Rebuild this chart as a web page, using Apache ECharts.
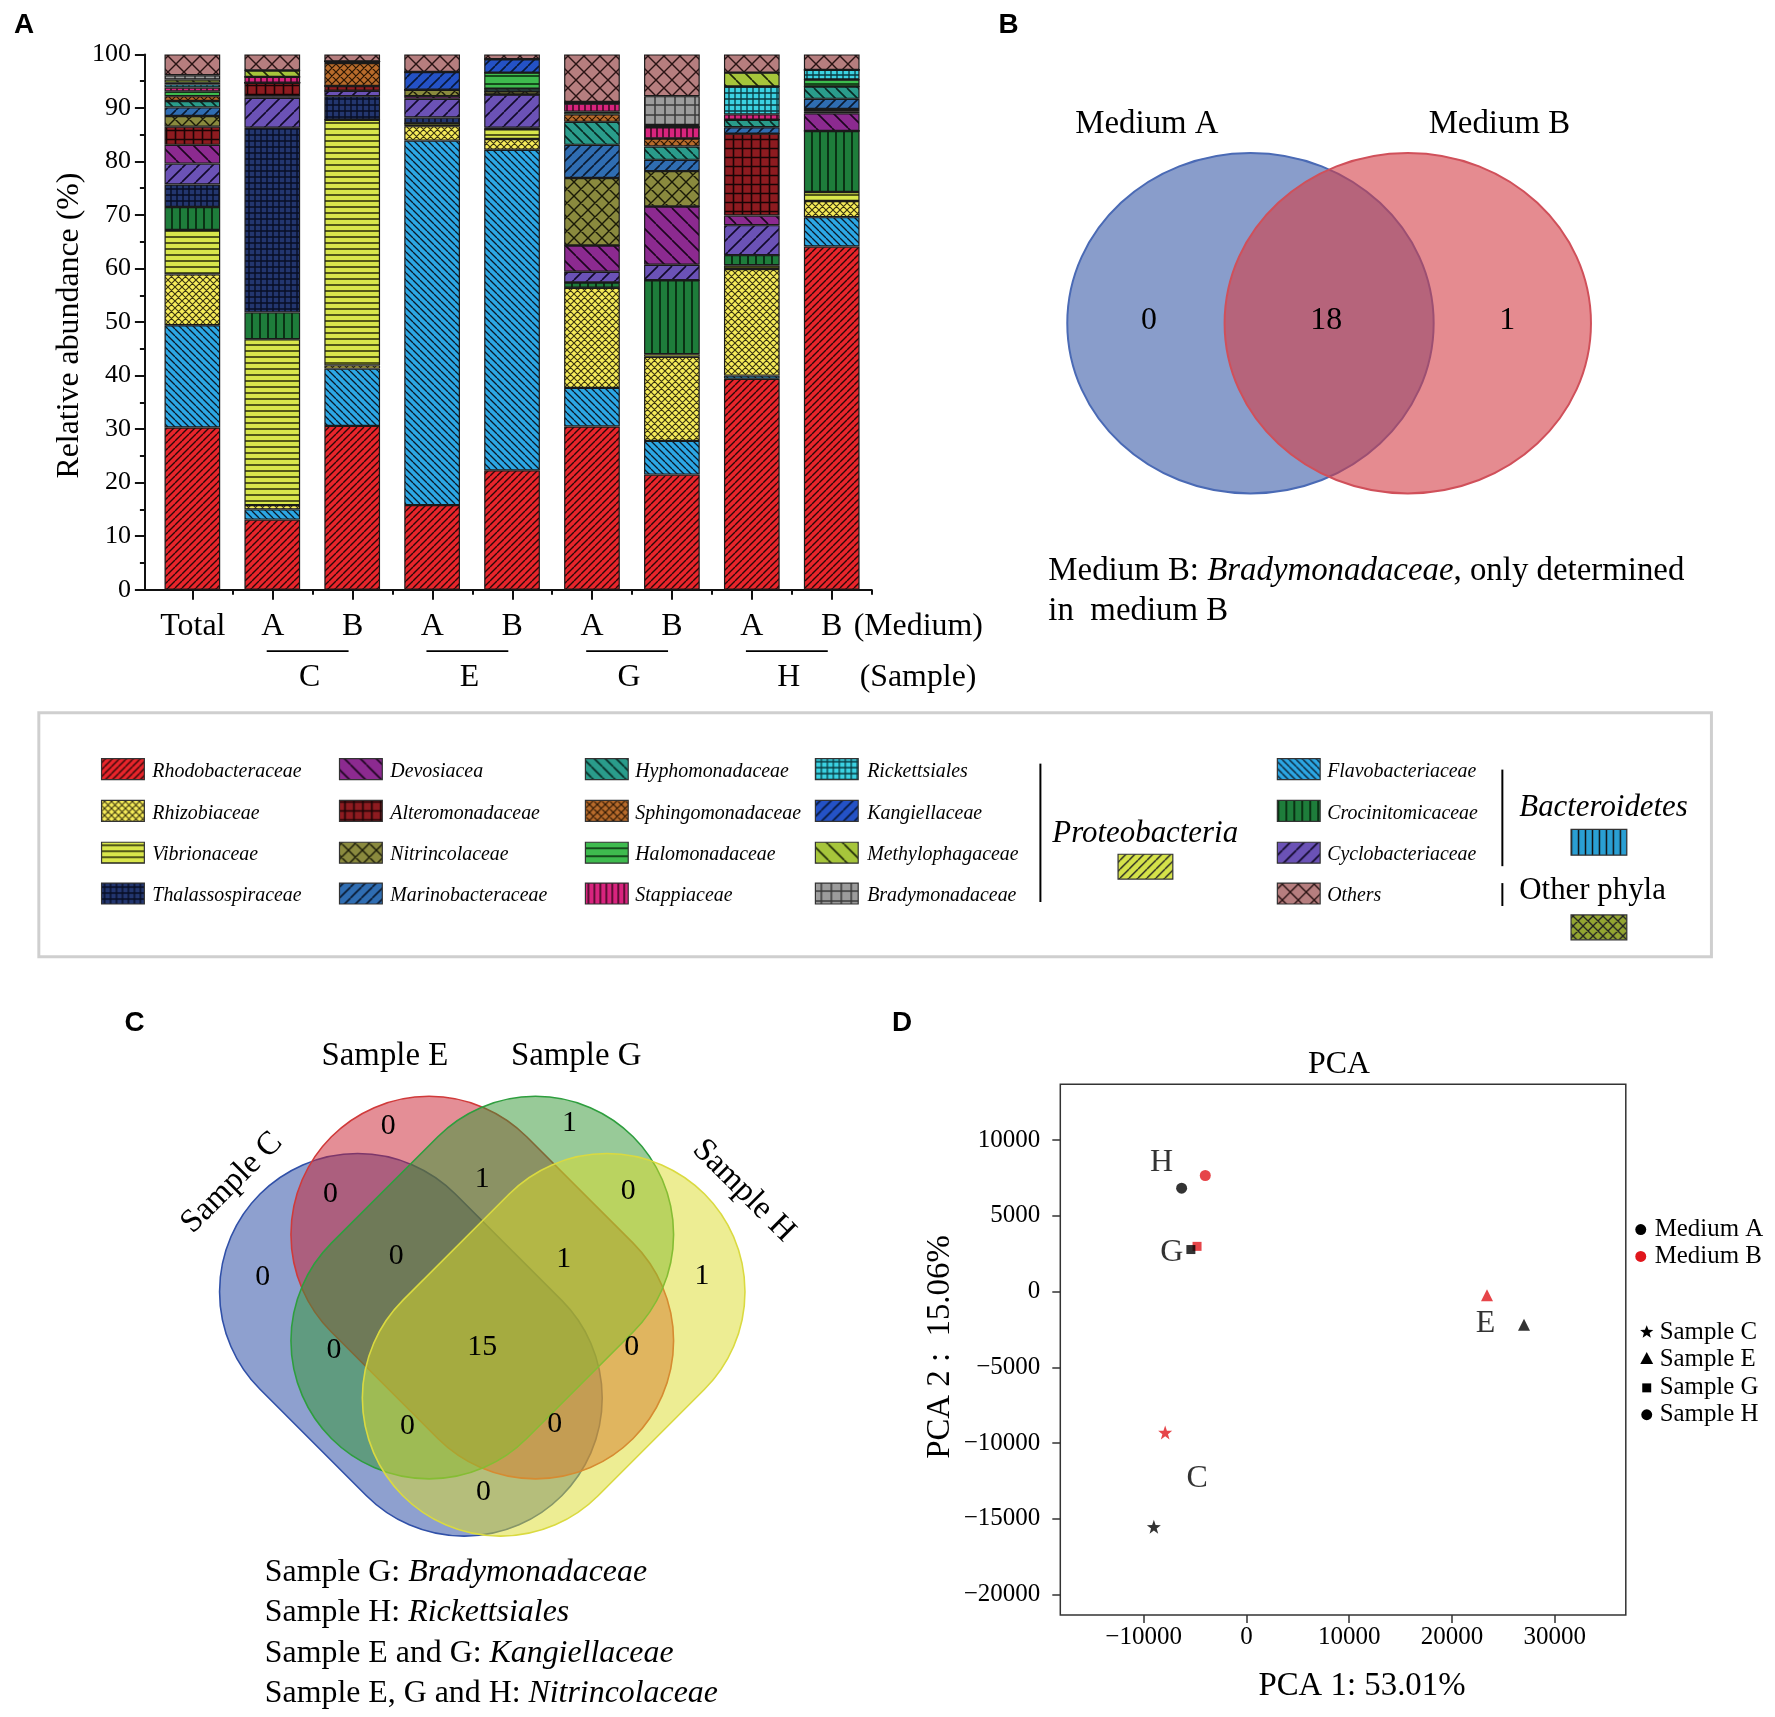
<!DOCTYPE html>
<html><head><meta charset="utf-8">
<script src="https://cdn.jsdelivr.net/npm/echarts/dist/echarts.min.js"></script>
<style>html,body{margin:0;padding:0;background:#fff}#main{width:1775px;height:1717px}</style>
</head><body><div id="main"></div>
<script>
// ================= DATA =================
// Panel A: relative abundance (%) per family, bars in order below
const barLabels = ['Total','A','B','A','B','A','B','A','B'];
const sampleGroups = ['C','E','G','H'];
const rhodobacteraceae  = [30.3,13.1,30.6,15.8,22.3,30.5,21.5,39.4,64.1];
const flavobacteriaceae = [19.1,1.9,10.7,68.1,59.9,7.2,6.3,0.6,5.5];
const rhizobiaceae      = [9.5,0.8,0.6,2.7,2.0,18.7,15.7,19.9,3.0];
const vibrionaceae      = [8.3,31.0,45.9,0.5,1.8,0,0.5,0.7,1.7];
const crocinitomicaceae = [4.3,5.0,0,0,0,1.0,13.8,1.9,11.4];
const thalassospiraceae = [4.2,34.5,4.4,1.1,0.3,0,0,0,0];
const cyclobacteriaceae = [3.9,5.6,1.0,3.5,6.2,2.0,2.9,5.6,0];
const devosiacea        = [3.5,0.3,0,0.5,0,4.9,10.9,1.8,3.3];
const alteromonadaceae  = [3.4,2.5,0.9,0,0,0,0,15.3,0.4];
const nitrincolaceae    = [2.0,0,0,1.2,0.6,12.6,6.6,0,0.4];
const marinobacteraceae = [1.6,0,0,0,0,6.2,2.1,1.2,1.9];
const hyphomonadaceae   = [1.2,0,0,0,0.5,4.3,2.5,1.4,2.3];
const sphingomonadaceae = [0.9,0,4.3,0,0,1.4,1.5,0,0];
const halomonadaceae    = [0.9,0,0.3,0,3.0,0.5,0,0,1.3];
const stappiaceae       = [0.7,1.1,0,0,0,1.5,2.1,1.0,0];
const rickettsiales     = [0.6,0,0,0,0,0,0,5.2,1.8];
const kangiellaceae     = [0.3,0,0,3.3,2.5,0.3,0,0,0];
const methylophagaceae  = [0.6,1.2,0,0,0,0,0.4,2.6,0];
const bradymonadaceae   = [0.8,0,0,0,0,0,5.4,0,0];
const others            = [3.9,3.0,1.3,3.3,0.9,8.9,7.8,3.4,2.9];
const stackOrder = ['Rhodobacteraceae','Flavobacteriaceae','Rhizobiaceae','Vibrionaceae','Crocinitomicaceae','Thalassospiraceae','Cyclobacteriaceae','Devosiacea','Alteromonadaceae','Nitrincolaceae','Marinobacteraceae','Hyphomonadaceae','Sphingomonadaceae','Halomonadaceae','Stappiaceae','Rickettsiales','Kangiellaceae','Methylophagaceae','Bradymonadaceae','Others'];
const stackValues = [rhodobacteraceae,flavobacteriaceae,rhizobiaceae,vibrionaceae,crocinitomicaceae,thalassospiraceae,cyclobacteriaceae,devosiacea,alteromonadaceae,nitrincolaceae,marinobacteraceae,hyphomonadaceae,sphingomonadaceae,halomonadaceae,stappiaceae,rickettsiales,kangiellaceae,methylophagaceae,bradymonadaceae,others];

// Legend columns
const legendColumns = [
  ['Rhodobacteraceae','Rhizobiaceae','Vibrionaceae','Thalassospiraceae'],
  ['Devosiacea','Alteromonadaceae','Nitrincolaceae','Marinobacteraceae'],
  ['Hyphomonadaceae','Sphingomonadaceae','Halomonadaceae','Stappiaceae'],
  ['Rickettsiales','Kangiellaceae','Methylophagaceae','Bradymonadaceae'],
  ['Flavobacteriaceae','Crocinitomicaceae','Cyclobacteriaceae','Others']
];
const phyla = ['Proteobacteria','Bacteroidetes','Other phyla'];

// Panel B: Venn (Medium A only, both, Medium B only)
const vennBSets = ['Medium A','Medium B'];
const vennBCounts = [0, 18, 1];
const vennBNote = ['Medium B: ', 'Bradymonadaceae', ', only determined', 'in  medium B'];

// Panel C: 4-set Venn
const vennCSets = ['Sample C','Sample E','Sample G','Sample H'];
const vennCRegions = ['C','E','G','H','CE','EG','GH','CEG','EGH','CEGH','CG','EH','CGH','CEH','CH'];
const vennCCounts  = [0,0,1,1,0,1,0,0,1,15,0,0,0,0,0];
const vennCNotes = [['Sample G: ','Bradymonadaceae'],['Sample H: ','Rickettsiales'],['Sample E and G: ','Kangiellaceae'],['Sample E, G and H: ','Nitrincolaceae']];

// Panel D: PCA
const pcaSamples = ['C','E','G','H'];
const pcaMediumA_x = [-9000, 27000, -5400, -6300];
const pcaMediumA_y = [-15530, -2180, 2780, 6830];
const pcaMediumB_x = [-7900, 23400, -4800, -4000];
const pcaMediumB_y = [-9300, -240, 2990, 7670];
const pcaLabel_x = [-4790, 23260, -7260, -8260];
const pcaLabel_y = [-12330, -2110, 2570, 8520];
const pcaXTicks = [-10000, 0, 10000, 20000, 30000];
const pcaYTicks = [-20000, -15000, -10000, -5000, 0, 5000, 10000];

// ================= STYLE =================
const SERIF = 'Liberation Serif, Times New Roman, serif';
const SANS = 'Liberation Sans, Arial, sans-serif';
const SC = 0.9956; // layout scale for annotation group
const fillStyles = {
  Rhodobacteraceae: ['#E8252B','/',7,1.4,'#2a0808'],
  Flavobacteriaceae: ['#2CA7E4','\\',7,1.3,'#0a1a2a'],
  Rhizobiaceae: ['#F6EC5A','x',7,1.1,'#3a3410'],
  Vibrionaceae: ['#D9E64B','h',6,1.5,'#262808'],
  Crocinitomicaceae: ['#1E7D3B','v',8,1.6,'#06200c'],
  Thalassospiraceae: ['#23366F','grid',6,1.4,'#080e24'],
  Cyclobacteriaceae: ['#6B52B6','/',14,1.6,'#120a2a'],
  Devosiacea: ['#8C2A90','\\',16,1.6,'#1c061e'],
  Alteromonadaceae: ['#8E1B20','grid',9,1.6,'#180405'],
  Nitrincolaceae: ['#8A8A3E','x',14,1.4,'#1a1a08'],
  Marinobacteraceae: ['#2F6DB2','/',11,1.6,'#0a1a30'],
  Hyphomonadaceae: ['#2A9C8B','\\',11,1.6,'#082a24'],
  Sphingomonadaceae: ['#B86B2B','x',8,1.2,'#2a1605'],
  Halomonadaceae: ['#3EBB4E','h',8,1.6,'#0c3010'],
  Stappiaceae: ['#D8247E','v',6,1.4,'#2a0616'],
  Rickettsiales: ['#3BD2E2','grid',6,1.3,'#0a3a40'],
  Kangiellaceae: ['#2452C6','/',11,1.6,'#081838'],
  Methylophagaceae: ['#A6C53B','\\',16,1.6,'#1e2808'],
  Bradymonadaceae: ['#9C9C9C','grid',10,1.5,'#3a3a3a'],
  Others: ['#B67E7F','x',16,1.4,'#2a1414'],
  Proteobacteria: ['#D5E24A','/',9,1.4,'#222'],
  Bacteroidetes: ['#2A9FD3','v',7,1.5,'#111'],
  'Other phyla': ['#93A532','x',10,1.3,'#222']
};
function makePattern(key) {
  const [bg, type, s, lw, lc] = fillStyles[key];
  const c = document.createElement('canvas');
  c.width = s; c.height = s;
  const g = c.getContext('2d');
  g.fillStyle = bg; g.fillRect(0, 0, s, s);
  g.strokeStyle = lc; g.lineWidth = lw;
  g.beginPath();
  if (type === 'h' || type === 'grid') { g.moveTo(0, s / 2); g.lineTo(s, s / 2); }
  if (type === 'v' || type === 'grid') { g.moveTo(s / 2, 0); g.lineTo(s / 2, s); }
  if (type === '/' || type === 'x') { for (let k = -1; k <= 1; k++) { g.moveTo(k * s, s); g.lineTo(k * s + s, 0); } }
  if (type === '\\' || type === 'x') { for (let k = -1; k <= 1; k++) { g.moveTo(k * s, 0); g.lineTo(k * s + s, s); } }
  g.stroke();
  return { image: c, repeat: 'repeat' };
}
const patterns = {};
Object.keys(fillStyles).forEach(k => patterns[k] = makePattern(k));

const starPath = 'path://M0,-10L2.35,-3.24L9.51,-3.09L3.8,1.24L5.88,8.09L0,4L-5.88,8.09L-3.8,1.24L-9.51,-3.09L-2.35,-3.24Z';
const sampleSymbols = [starPath, 'triangle', 'rect', 'circle'];
const sampleSizes = [14, 12, 9, 11];

// ================= CHART =================
const chart = echarts.init(document.getElementById('main'), null, { renderer: 'canvas' });

const barSeries = stackOrder.map((name, k) => ({
  type: 'bar', name, stack: 'abund', xAxisIndex: 3, yAxisIndex: 2,
  barWidth: 55.7, silent: true, emphasis: { disabled: true },
  data: stackValues[k],
  itemStyle: { color: patterns[name], borderColor: '#1a1a1a', borderWidth: 1.2 }
}));

const pcaSeries = [
  { type: 'scatter', name: 'Medium A', xAxisIndex: 2, yAxisIndex: 1, silent: true, z: 5,
    itemStyle: { color: '#000' },
    data: pcaMediumA_x.map((x, i) => ({ value: [x, pcaMediumA_y[i]], symbol: sampleSymbols[i], symbolSize: sampleSizes[i] })) },
  { type: 'scatter', name: 'Medium B', xAxisIndex: 2, yAxisIndex: 1, silent: true, z: 4,
    itemStyle: { color: '#E0161C' },
    data: pcaMediumB_x.map((x, i) => ({ value: [x, pcaMediumB_y[i]], symbol: sampleSymbols[i], symbolSize: sampleSizes[i] })) },
  { type: 'scatter', name: 'labels', xAxisIndex: 2, yAxisIndex: 1, silent: true, symbolSize: 0.1,
    itemStyle: { color: 'transparent' },
    label: { show: true, position: 'inside', formatter: '{b}', color: '#000', fontSize: 32, fontFamily: SERIF },
    data: pcaLabel_x.map((x, i) => ({ value: [x, pcaLabel_y[i]], name: pcaSamples[i] })) }
];

const option = {
  animation: false,
  backgroundColor: '#fff',
  textStyle: { fontFamily: SERIF },
  grid: [
    { left: 144.9, top: 54.4, width: 726.8, height: 535.3 },
    { left: 1060.3, top: 1084.2, width: 565.5, height: 530.7, show: true, borderColor: '#333', borderWidth: 1.5, backgroundColor: 'transparent' },
    { left: 152.4, top: 54.4, width: 719.3, height: 535.3 }
  ],
  xAxis: [
    { type: 'value', gridIndex: 0, min: -0.6, max: 8.5, position: 'bottom',
      axisLine: { show: true, onZero: false, lineStyle: { color: '#111', width: 2 } },
      axisTick: { show: true, customValues: barLabels.map((_, i) => i), length: 10, lineStyle: { color: '#111', width: 2 } },
      axisLabel: { show: true, customValues: barLabels.map((_, i) => i), formatter: v => barLabels[Math.round(v)] || '',
        margin: 21, fontSize: 32, fontFamily: SERIF, color: '#000' },
      splitLine: { show: false } },
    { type: 'value', gridIndex: 0, min: -0.6, max: 8.5, position: 'bottom',
      axisLine: { show: false, onZero: false },
      axisTick: { show: true, customValues: barLabels.map((_, i) => i + 0.5), length: 5, lineStyle: { color: '#111', width: 2 } },
      axisLabel: { show: false }, splitLine: { show: false } },
    { type: 'value', gridIndex: 1, min: -18100, max: 36900, position: 'bottom',
      axisLine: { show: false, onZero: false },
      axisTick: { show: true, customValues: pcaXTicks, length: 8, lineStyle: { color: '#333', width: 1.5 } },
      axisLabel: { show: true, customValues: pcaXTicks, formatter: v => String(v).replace('-', '\u2212'),
        margin: 10, fontSize: 25, fontFamily: SERIF, color: '#000' },
      splitLine: { show: false } },
    { type: 'category', gridIndex: 2, data: barLabels, boundaryGap: true, position: 'bottom',
      axisLine: { show: false }, axisTick: { show: false }, axisLabel: { show: false }, splitLine: { show: false } }
  ],
  yAxis: [
    { type: 'value', gridIndex: 0, min: 0, max: 100, interval: 10,
      axisLine: { show: true, onZero: false, lineStyle: { color: '#111', width: 2 } },
      axisTick: { show: true, length: 10, lineStyle: { color: '#111', width: 2 } },
      minorTick: { show: true, splitNumber: 2, length: 5, lineStyle: { color: '#111', width: 2 } },
      axisLabel: { margin: 14, fontSize: 26, fontFamily: SERIF, color: '#000' },
      splitLine: { show: false }, minorSplitLine: { show: false } },
    { type: 'value', gridIndex: 1, min: -21350, max: 13700, position: 'left',
      axisLine: { show: false, onZero: false },
      axisTick: { show: true, customValues: pcaYTicks, length: 8, lineStyle: { color: '#333', width: 1.5 } },
      axisLabel: { show: true, customValues: pcaYTicks, formatter: v => String(v).replace('-', '\u2212'),
        margin: 20, fontSize: 25, fontFamily: SERIF, color: '#000' },
      splitLine: { show: false } },
    { type: 'value', gridIndex: 2, min: 0, max: 100,
      axisLine: { show: false }, axisTick: { show: false }, axisLabel: { show: false }, splitLine: { show: false } }
  ],
  series: barSeries.concat(pcaSeries)
};
chart.setOption(option);

// ================= ANNOTATIONS (graphic, in a slightly scaled group) =================
const G = [];
function txt(x, y, text, o) {
  o = o || {};
  const style = {
    text, fontSize: o.size || 32, fontFamily: o.font || SERIF,
    fontStyle: o.italic ? 'italic' : 'normal', fontWeight: o.bold ? 'bold' : 'normal',
    fill: o.color || '#000', align: o.align || 'center', verticalAlign: o.va || 'middle',
    textAlign: o.align || 'center', textVerticalAlign: o.va || 'middle'
  };
  G.push({ type: 'text', x, y, rotation: o.rot || 0, silent: true, z: 40, style });
}
function richTxt(x, y, parts, size) {
  G.push({ type: 'text', x, y, silent: true, z: 40, style: {
    text: parts.map((p, i) => '{' + (i % 2 ? 'i' : 'n') + '|' + p + '}').join(''),
    rich: { n: { fontSize: size, fontFamily: SERIF, fill: '#000', color: '#000' }, i: { fontSize: size, fontFamily: SERIF, fontStyle: 'italic', fill: '#000', color: '#000' } },
    align: 'left', verticalAlign: 'middle', textAlign: 'left', textVerticalAlign: 'middle' } });
}
function line(x1, y1, x2, y2, w, c) {
  G.push({ type: 'line', silent: true, z: 30, shape: { x1, y1, x2, y2 }, style: { stroke: c || '#000', lineWidth: w || 2 } });
}
function swatch(x, y, w, h, key) {
  G.push({ type: 'rect', silent: true, z: 30, shape: { x, y, width: w, height: h }, style: { fill: patterns[key], stroke: '#333', lineWidth: 1.2 } });
}

// Panel letters
txt(14, 25, 'A', { font: SANS, bold: true, size: 28, align: 'left' });
txt(1003, 25, 'B', { font: SANS, bold: true, size: 28, align: 'left' });
txt(125, 1028, 'C', { font: SANS, bold: true, size: 28, align: 'left' });
txt(896, 1028, 'D', { font: SANS, bold: true, size: 28, align: 'left' });

// Panel A annotations
const px = i => chart.convertToPixel({ xAxisIndex: 0 }, i) / SC;
txt(70, 327, 'Relative abundance (%)', { rot: Math.PI / 2, size: 32 });
sampleGroups.forEach((s, k) => {
  const a = px(1 + 2 * k), b = px(2 + 2 * k);
  line(a - 6, 654, b - 4, 654, 2);
  txt((a + b) / 2 - 3, 681, s, { size: 32 });
});
txt(px(8) + 22, 629, '(Medium)', { size: 32, align: 'left' });
txt(px(8) + 28, 681, '(Sample)', { size: 32, align: 'left' });

// Legend box
G.push({ type: 'rect', silent: true, z: 20, shape: { x: 39, y: 716, width: 1680, height: 245 }, style: { fill: '#fff', stroke: '#cfcfcf', lineWidth: 3 } });
const colSwX = [102, 341, 588, 819, 1283];
const colTxX = [153, 392, 638, 871, 1333];
const rowY = [773, 815, 857, 898];
legendColumns.forEach((col, ci) => col.forEach((name, ri) => {
  swatch(colSwX[ci], rowY[ri] - 11, 43, 21, name);
  txt(colTxX[ci], rowY[ri] + 2, name, { italic: true, size: 20, align: 'left' });
}));
line(1045, 767, 1045, 906, 2);
txt(1057, 838, phyla[0], { italic: true, size: 31, align: 'left' });
swatch(1123, 858, 55, 25, phyla[0]);
line(1509, 773, 1509, 870, 2);
line(1509, 887, 1509, 910, 2);
txt(1526, 811, phyla[1], { italic: true, size: 31, align: 'left' });
swatch(1578, 833, 56, 26, phyla[1]);
txt(1526, 895, phyla[2], { size: 31, align: 'left' });
swatch(1578, 919, 56, 25, phyla[2]);

// Panel B Venn
G.push({ type: 'ellipse', silent: true, z: 10, shape: { cx: 1256, cy: 324.6, rx: 184, ry: 171 }, style: { fill: 'rgba(59,91,168,0.6)', stroke: '#4A6AB5', lineWidth: 2 } });
G.push({ type: 'ellipse', silent: true, z: 11, shape: { cx: 1414, cy: 324.6, rx: 184, ry: 171 }, style: { fill: 'rgba(211,62,70,0.6)', stroke: '#D0505A', lineWidth: 2 } });
txt(1152, 125, vennBSets[0], { size: 33 });
txt(1506, 125, vennBSets[1], { size: 33 });
const vennBPos = [[1154, 322], [1332, 322], [1514, 322]];
vennBCounts.forEach((c, i) => txt(vennBPos[i][0], vennBPos[i][1], String(c), { size: 32 }));
richTxt(1053, 574, vennBNote.slice(0, 3), 33);
txt(1053, 614, vennBNote[3], { size: 33, align: 'left' });

// Panel C Venn (stadium shapes)
const L = 428.6, W = 277.4;
const vennCShapes = [
  { cx: 412.7, cy: 1350.8, rot: -Math.PI / 4, fill: 'rgba(30,65,160,0.5)', stroke: '#3050A8' },
  { cx: 484.4, cy: 1293.3, rot: -Math.PI / 4, fill: 'rgba(201,30,45,0.5)', stroke: '#D03A3A' },
  { cx: 484.4, cy: 1293.3, rot: Math.PI / 4, fill: 'rgba(50,150,50,0.5)', stroke: '#2E9E3E' },
  { cx: 556.1, cy: 1350.8, rot: Math.PI / 4, fill: 'rgba(220,220,40,0.5)', stroke: '#DADA40' }
];
vennCShapes.forEach((s, i) => G.push({ type: 'rect', silent: true, z: 10 + i, x: s.cx, y: s.cy, rotation: s.rot,
  shape: { x: -L / 2, y: -W / 2, width: L, height: W, r: W / 2 }, style: { fill: s.fill, stroke: s.stroke, lineWidth: 1.6 } }));
const vennCPos = {
  C: [263.8, 1282.5], E: [390, 1131.3], G: [571.9, 1127.9], H: [705, 1281.4],
  CE: [332, 1199.5], EG: [484.4, 1184.8], GH: [631, 1196.1], CEG: [398, 1262], EGH: [566.2, 1264.3],
  CEGH: [484.4, 1353], CG: [335.4, 1356.4], EH: [634.4, 1353], CGH: [409.3, 1432.6], CEH: [557.1, 1430.3], CH: [485.5, 1498.6]
};
vennCRegions.forEach((r, i) => txt(vennCPos[r][0], vennCPos[r][1], String(vennCCounts[i]), { size: 30 }));
txt(233, 1188, vennCSets[0], { size: 33, rot: Math.PI / 4 });
txt(386.6, 1060.8, vennCSets[1], { size: 33 });
txt(578.7, 1060.8, vennCSets[2], { size: 33 });
txt(747, 1196, vennCSets[3], { size: 33, rot: -Math.PI / 4 });
const noteY = [1580, 1620, 1661, 1701];
vennCNotes.forEach((n, i) => richTxt(266, noteY[i], n, 32));

// Panel D annotations
txt(1345, 1069, 'PCA', { size: 32 });
txt(945, 1353, 'PCA 2 :  15.06%', { size: 33, rot: Math.PI / 2 });
txt(1368, 1694, 'PCA 1: 53.01%', { size: 33 });
function dot(x, y, r, c) { G.push({ type: 'circle', silent: true, z: 30, shape: { cx: x, cy: y, r }, style: { fill: c } }); }
dot(1648, 1235, 5.5, '#000'); txt(1662, 1235, 'Medium A', { size: 25, align: 'left' });
dot(1648, 1262, 5.5, '#E0161C'); txt(1662, 1262, 'Medium B', { size: 25, align: 'left' });
const legY = [1338, 1365, 1394, 1421];
const legSx = 1654;
(function () {
  const pts = []; const R = 7, r = 3;
  for (let k = 0; k < 10; k++) { const a = -Math.PI / 2 + k * Math.PI / 5; const rr = k % 2 ? r : R; pts.push([legSx + rr * Math.cos(a), legY[0] + rr * Math.sin(a)]); }
  G.push({ type: 'polygon', silent: true, z: 30, shape: { points: pts }, style: { fill: '#000' } });
})();
G.push({ type: 'polygon', silent: true, z: 30, shape: { points: [[legSx, legY[1] - 7], [legSx + 6.5, legY[1] + 5], [legSx - 6.5, legY[1] + 5]] }, style: { fill: '#000' } });
G.push({ type: 'rect', silent: true, z: 30, shape: { x: legSx - 4.5, y: legY[2] - 4.5, width: 9, height: 9 }, style: { fill: '#000' } });
dot(legSx, legY[3], 5.5, '#000');
pcaSamples.forEach((s, i) => txt(1667, legY[i], 'Sample ' + s, { size: 25, align: 'left' }));

chart.setOption({ graphic: [{ type: 'group', x: 0, y: 0, scaleX: SC, scaleY: SC, silent: true, children: G }] });
</script>
</body></html>
